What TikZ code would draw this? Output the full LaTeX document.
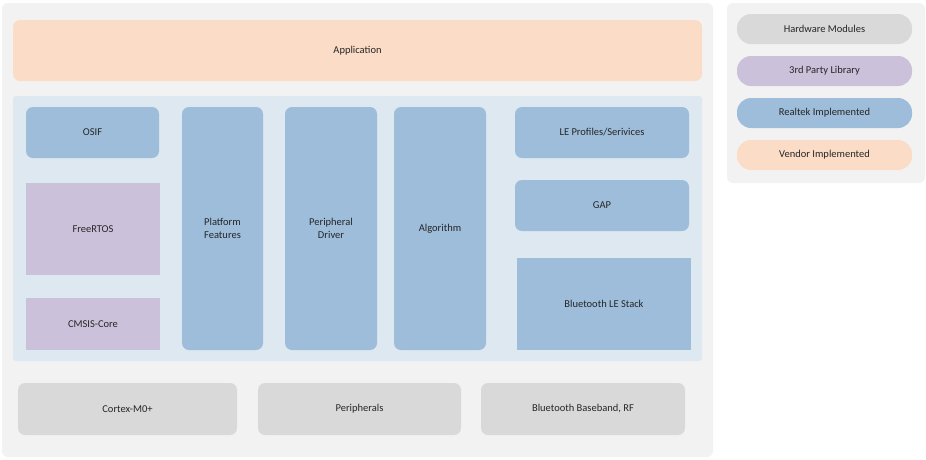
\documentclass[tikz,border=0pt]{standalone}
\usepackage{fontspec}
\setmainfont{Carlito}
\definecolor{panel}{HTML}{F2F2F2}
\definecolor{hwgray}{HTML}{D9D9D9}
\definecolor{thirdp}{HTML}{CCC1DA}
\definecolor{rtkblue}{HTML}{9DBDDA}
\definecolor{vendor}{HTML}{FBDCC6}
\definecolor{bluebg}{HTML}{DEE8F1}
\begin{document}
\begin{tikzpicture}[x=1pt,y=-1pt,
    box/.style={rectangle, draw=none, align=center, inner sep=0pt, font=\fontsize{10.5}{12.5}\selectfont, text=black!85},
    rnd/.style={box, rounded corners=7pt},
    pill/.style={box, rounded corners=14pt}
]
\useasboundingbox (0,0) rectangle (926,459);
% panels
\fill[panel, rounded corners=6pt] (2,3) rectangle (713,457);
\fill[panel, rounded corners=6pt] (727,3) rectangle (925,183);
% application layer
\node[rnd, fill=vendor, minimum width=689pt, minimum height=61pt] (app) at (357.5,50.5) {Application};
\fill[bluebg, rounded corners=3pt] (13,96) rectangle (702,361);
% left column
\node[rnd, fill=rtkblue, minimum width=133pt, minimum height=51pt] (osif) at (92.5,132.5) {OSIF};
\node[box, fill=thirdp, minimum width=134pt, minimum height=92pt] (rtos) at (93,229) {FreeRTOS};
\node[box, fill=thirdp, minimum width=134pt, minimum height=52pt] (cmsis) at (93,324) {CMSIS-Core};
% middle columns
\node[rnd, fill=rtkblue, minimum width=81pt, minimum height=243pt] (plat) at (222.5,228.5) {Platform\\Features};
\node[rnd, fill=rtkblue, minimum width=92pt, minimum height=243pt] (drv) at (331,228.5) {Peripheral\\Driver};
\node[rnd, fill=rtkblue, minimum width=92pt, minimum height=243pt] (algo) at (440,228.5) {Algorithm};
% right column
\node[rnd, fill=rtkblue, minimum width=174pt, minimum height=51pt] (prof) at (602,132.5) {LE Profiles/Serivices};
\node[rnd, fill=rtkblue, minimum width=174pt, minimum height=51pt] (gap) at (602,205.5) {GAP};
\node[box, fill=rtkblue, minimum width=174pt, minimum height=92pt] (stack) at (604,304) {Bluetooth LE Stack};
% hardware
\node[rnd, fill=hwgray, minimum width=219pt, minimum height=52pt] (cpu) at (127.5,409) {Cortex-M0+};
\node[rnd, fill=hwgray, minimum width=203pt, minimum height=52pt] (peri) at (359.5,409) {Peripherals};
\node[rnd, fill=hwgray, minimum width=204pt, minimum height=52pt] (rf) at (583,409) {Bluetooth Baseband, RF};
% legend
\node[pill, fill=hwgray, minimum width=175pt, minimum height=30pt] (lg1) at (824.5,29) {Hardware Modules};
\node[pill, fill=thirdp, minimum width=175pt, minimum height=30pt] (lg2) at (824.5,71) {3rd Party Library};
\node[pill, fill=rtkblue, minimum width=175pt, minimum height=30pt] (lg3) at (824.5,113) {Realtek Implemented};
\node[pill, fill=vendor, minimum width=175pt, minimum height=30pt] (lg4) at (824.5,155) {Vendor Implemented};
\end{tikzpicture}
\end{document}
